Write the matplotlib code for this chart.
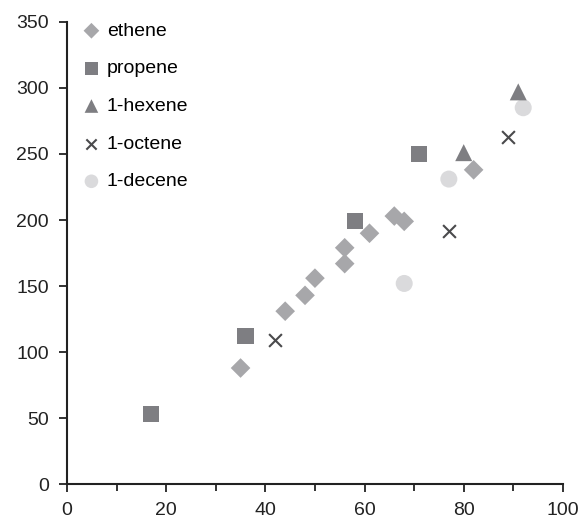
import matplotlib
matplotlib.use('Agg')
from matplotlib import pyplot as plt

plt.rcParams['font.family'] = ['Liberation Sans', 'DejaVu Sans']

# data
ethene_x = [35, 44, 48, 50, 56, 56, 61, 66, 68, 82]
ethene_y = [88, 131, 143, 156, 167, 179, 190, 203, 199, 238]

propene_x = [17, 36, 58, 71]
propene_y = [53, 112, 199, 250]

hexene_x = [80, 91]
hexene_y = [251, 297]

octene_x = [42, 77, 89]
octene_y = [109, 192, 263]

decene_x = [68, 77, 92]
decene_y = [152, 231, 285]

fig = plt.figure(figsize=(5.8, 5.19), dpi=100)
ax = fig.add_axes([0.1155, 0.0669, 0.855, 0.891])

ax.scatter(ethene_x, ethene_y, marker='D', s=100, color='#a7a7aa', edgecolor='none', label='ethene', zorder=3)
ax.scatter(propene_x, propene_y, marker='s', s=135, color='#7e7e82', edgecolor='none', label='propene', zorder=3)
ax.scatter(hexene_x, hexene_y, marker='^', s=150, color='#7e7e82', edgecolor='none', label='1-hexene', zorder=3)
ax.scatter(octene_x, octene_y, marker='x', s=85, color='#4a4a4c', linewidths=1.5, label='1-octene', zorder=3)
ax.scatter(decene_x, decene_y, marker='o', s=150, color='#dadadc', edgecolor='none', label='1-decene', zorder=2)

ax.set_xlim(0, 100)
ax.set_ylim(0, 350)
ax.set_xticks(range(0, 101, 20))
ax.set_xticks(range(10, 100, 20), minor=True)
ax.set_yticks(range(0, 351, 50))

for s in ['top', 'right']:
    ax.spines[s].set_visible(False)
for s in ['left', 'bottom']:
    ax.spines[s].set_linewidth(1.5)
    ax.spines[s].set_color('#222222')

ax.tick_params(axis='both', which='major', labelsize=14, width=1.3, length=6, pad=7,
               direction='out', colors='#222222')
ax.tick_params(axis='x', which='minor', width=1.3, length=5, direction='out', colors='#222222')

ax.legend(loc='upper left', frameon=False, fontsize=14, labelspacing=1.03,
          handlelength=1.0, handletextpad=0.3, borderpad=0.4, borderaxespad=0,
          bbox_to_anchor=(0.014, 1.016), markerscale=0.8)

plt.savefig('out.png', dpi=100)
